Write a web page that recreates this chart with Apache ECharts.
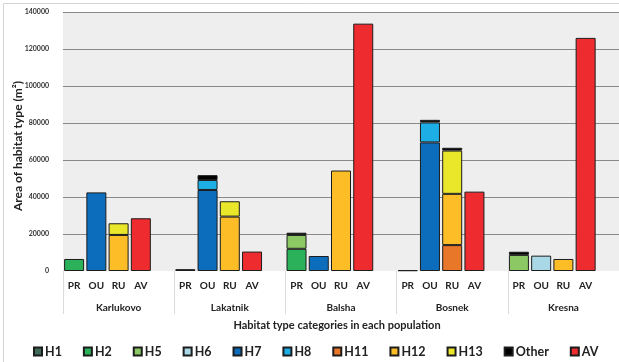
<!DOCTYPE html>
<html>
<head>
<meta charset="utf-8">
<script src="https://cdn.jsdelivr.net/npm/echarts@6/dist/echarts.min.js"></script>
<style>
  html, body { margin: 0; padding: 0; background: #ffffff; }
  #chart { width: 619px; height: 362px; }
</style>
</head>
<body>
<div id="chart"></div>
<script>
// Populations and the habitat-use categories shown within each of them
const populations = ['Karlukovo', 'Lakatnik', 'Balsha', 'Bosnek', 'Kresna'];
const subCategories = ['PR', 'OU', 'RU', 'AV'];

// Area (m²) per habitat type, listed population by population as PR, OU, RU, AV
const H1    = [null, null, null, null,   1000, null, null, null,   null, null, null, null,   null, null, null, null,   null, null, null, null];
const H2    = [6500, null, null, null,   null, null, null, null,   12000, null, null, null,  null, null, null, null,   null, null, null, null];
const H5    = [null, null, null, null,   null, null, null, null,   7500, null, null, null,   null, null, null, null,   8700, null, null, null];
const H6    = [null, null, null, null,   null, null, null, null,   null, null, null, null,   400, null, null, null,    null, 8300, null, null];
const H7    = [null, 42500, null, null,  null, 43800, null, null,  null, 8100, null, null,   null, 69500, null, null,  null, null, null, null];
const H8    = [null, null, null, null,   null, 5400, null, null,   null, null, null, null,   null, 10800, null, null,  null, null, null, null];
const H11   = [null, null, null, null,   null, null, null, null,   null, null, null, null,   null, null, 14000, null,  null, null, null, null];
const H12   = [null, null, 19500, null,  null, null, 29400, null,  null, null, 54300, null,  null, null, 27700, null,  null, null, 6500, null];
const H13   = [null, null, 6300, null,   null, null, 8300, null,   null, null, null, null,   null, null, 23400, null,  null, null, null, null];
const Other = [null, null, null, null,   null, 2600, null, null,   1200, null, null, null,   null, 1400, 1500, null,   1700, null, null, null];
const AV    = [null, null, null, 28500,  null, null, null, 10500,  null, null, null, 133700, null, null, null, 42900,  null, null, null, 126000];

const seriesDefs = [
  { name: 'H1', values: H1, color: '#3f6a57' },
  { name: 'H2', values: H2, color: '#2bb15a' },
  { name: 'H5', values: H5, color: '#8cc863' },
  { name: 'H6', values: H6, color: '#a9d9e6' },
  { name: 'H7', values: H7, color: '#0c6dbd' },
  { name: 'H8', values: H8, color: '#1eaee6' },
  { name: 'H11', values: H11, color: '#e8772a' },
  { name: 'H12', values: H12, color: '#fcbd26' },
  { name: 'H13', values: H13, color: '#eae62a' },
  { name: 'Other', values: Other, color: '#000000' },
  { name: 'AV', values: AV, color: '#ee2b2e' }
];

// Each population occupies the four categories plus one empty spacer slot
const slotLabels = [];
populations.forEach(() => { subCategories.forEach(c => slotLabels.push(c)); slotLabels.push(''); });
function toSlots(values) {
  const out = [];
  populations.forEach((p, gi) => {
    for (let k = 0; k < subCategories.length; k++) out.push(values[gi * subCategories.length + k]);
    out.push(null);
  });
  return out;
}

const FONT = 'Lato, "Open Sans", sans-serif';
const chart = echarts.init(document.getElementById('chart'), null, { renderer: 'canvas' });

chart.setOption({
  animation: false,
  backgroundColor: '#ffffff',
  grid: {
    left: 63, top: 12, width: 583, height: 259,
    show: true, backgroundColor: '#eeeeee', borderWidth: 0
  },
  xAxis: [
    {
      type: 'category',
      data: slotLabels,
      axisLine: { show: false },
      axisTick: { show: false },
      axisLabel: { interval: 0, margin: 10, fontFamily: FONT, fontWeight: 'bold', fontSize: 10, color: '#222222' }
    },
    {
      type: 'category',
      data: populations,
      position: 'bottom',
      axisLine: { show: false },
      axisTick: { show: true, length: 43, interval: 0, lineStyle: { color: '#dadada', width: 1 } },
      axisLabel: { interval: 0, margin: 32, fontFamily: FONT, fontWeight: 'bold', fontSize: 10, color: '#222222' }
    }
  ],
  yAxis: {
    type: 'value',
    min: 0, max: 140000, interval: 20000,
    axisLine: { show: false },
    axisTick: { show: false },
    axisLabel: { margin: 14, fontFamily: FONT, fontWeight: 'bold', fontSize: 7, color: '#333333', formatter: v => String(v) },
    splitLine: { show: true, showMinLine: false, lineStyle: { color: '#8a8a8a', width: 1 } }
  },
  legend: {
    data: seriesDefs.map(s => s.name),
    left: 28, top: 340, width: 620,
    icon: 'rect', itemWidth: 8, itemHeight: 8, itemGap: 21,
    textStyle: { fontFamily: FONT, fontWeight: 'bold', fontSize: 12.5, color: '#222222', padding: [0, 0, 0, -2] }
  },
  series: seriesDefs.map(s => ({
    name: s.name,
    type: 'bar',
    stack: 'area',
    xAxisIndex: 0,
    barWidth: 20,
    data: toSlots(s.values),
    itemStyle: { color: s.color, borderColor: '#1c1c1c', borderWidth: 1 }
  })),
  graphic: [
    {
      type: 'text', x: 18, y: 146, rotation: Math.PI / 2,
      style: { text: 'Area of habitat type (m²)', fontFamily: FONT, fontWeight: 'bold', fontSize: 12, fill: '#222222', align: 'center', verticalAlign: 'middle' }
    },
    {
      type: 'text', x: 337, y: 325,
      style: { text: 'Habitat type categories in each population', fontFamily: FONT, fontWeight: 'bold', fontSize: 11, fill: '#222222', align: 'center', verticalAlign: 'middle' }
    },
    {
      type: 'rect', shape: { x: 3.5, y: 3.5, width: 700, height: 500 },
      style: { fill: 'none', stroke: '#d4d4d4', lineWidth: 1 }, silent: true
    }
  ]
});
</script>
</body>
</html>
